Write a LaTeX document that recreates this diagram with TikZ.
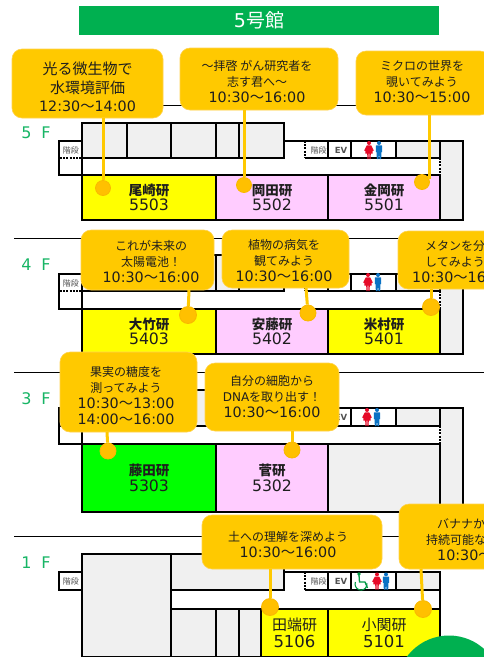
\documentclass[tikz,border=0pt]{standalone}
\usepackage{fontspec}
\setmainfont{DejaVu Sans}
\newfontfamily\jp{Noto Sans CJK JP}
\definecolor{hdr}{HTML}{00B050}
\definecolor{flr}{HTML}{17B565}
\definecolor{grayroom}{HTML}{F0F0F0}
\definecolor{pinkroom}{HTML}{FFCCFF}
\definecolor{yellowroom}{HTML}{FFFF00}
\definecolor{greenroom}{HTML}{00FF00}
\definecolor{bub}{HTML}{FFC900}
\definecolor{bubedge}{HTML}{FFD24D}
\definecolor{dotc}{HTML}{FFC000}
\definecolor{dotedge}{HTML}{F9B800}
\definecolor{wc}{HTML}{E60A28}
\definecolor{mc}{HTML}{0A72C4}
\definecolor{chair}{HTML}{009A44}
\definecolor{ink}{HTML}{1E1E1E}
\definecolor{sign}{HTML}{505050}
\tikzset{
  wall/.style={draw=black,line width=1.7pt},
  dashwall/.style={draw=black,line width=1.7pt,dash pattern=on 2pt off 1.2pt},
  room/.style={wall,fill=grayroom},
  rule/.style={draw=black,line width=0.7pt},
  labbox/.style={wall,inner sep=0pt,align=center,text=ink,font=\fontsize{15.7}{15.5}\selectfont},
  bubble/.style={draw=bubedge,line width=0.6pt,fill=bub,rounded corners=10pt,inner sep=0pt},
  bubtext/.style={inner sep=0pt,align=center,text=ink,font=\jp\fontsize{12}{16}\selectfont},
  stem/.style={draw=bub,line width=3pt},
  pin/.style={circle,fill=dotc,draw=dotedge,line width=0.8pt,inner sep=0pt},
  signtext/.style={inner sep=0pt,text=sign,font=\jp\fontsize{8}{8}\selectfont},
  evtext/.style={inner sep=0pt,text=sign,font=\bfseries\fontsize{8.5}{9}\selectfont},
  flrtext/.style={inner sep=0pt,text=flr,font=\fontsize{16}{16}\selectfont},
}
% room with text: name, x0, y0, x1, y1, colour, label, number
\newcommand{\labroom}[8]{%
  \pgfmathsetmacro{\cxx}{(#2+#4)/2}\pgfmathsetmacro{\cyy}{(#3+#5)/2}%
  \pgfmathsetmacro{\wdd}{#4-#2}\pgfmathsetmacro{\htt}{#5-#3}%
  \node[labbox,fill=#6,minimum width=\wdd pt,minimum height=\htt pt] (#1) at (\cxx,\cyy)
    {{\jp\bfseries\fontsize{13.5}{15.5}\selectfont #7}\\#8};}
% floor: top, core, mid, lab, bottom
\newcommand{\upperfloor}[5]{%
  \path[room] (82,#1) rectangle (284,#3);
  \foreach \xx in {127,171,216,239} \draw[wall] (\xx,#1) -- (\xx,#3);
  \draw[wall] (59,#2) rectangle (82,#4);
  \draw[line width=1.7pt,white] (62,#3) -- (81,#3);
  \draw[dashwall] (60,#3) -- (82,#3);
  \draw[wall] (284,#2) -- (440,#2);
  \draw[wall] (305,#3) -- (440,#3);
  \draw[dashwall] (305,#2) -- (305,#3);
  \draw[wall] (328,#2) -- (328,#3);
  \draw[wall] (351,#2) -- (351,#3);
  \path[room] (396,#2) rectangle (440,#3);
  \path[room] (440,#2) rectangle (463,#5);
  \draw[line width=1.8pt,white] (440,{#3+1}) -- (440,{#4-1});
  \draw[dashwall] (440,#3) -- (440,#4);
}
\newcommand{\woman}[3]{\begin{scope}[shift={(#1,#2)},yscale=#3]
  \fill[wc] (0,2) circle[radius=2];
  \fill[wc] (-2.2,4.4) -- (2.2,4.4) -- (4.8,9.5) -- (3.6,10) -- (3.6,12.5) -- (1.8,12.5) -- (1.6,18) -- (0.4,18) -- (0.3,12.5)
    -- (-0.3,12.5) -- (-0.4,18) -- (-1.6,18) -- (-1.8,12.5) -- (-3.6,12.5) -- (-3.6,10) -- (-4.8,9.5) -- cycle;
\end{scope}}
\newcommand{\man}[3]{\begin{scope}[shift={(#1,#2)},yscale=#3]
  \fill[mc] (0,2) circle[radius=2];
  \fill[mc] (-2.8,4.4) -- (2.8,4.4) -- (3.2,5) -- (3.2,11) -- (2.4,11) -- (2.2,18) -- (0.3,18) -- (0.2,12) -- (-0.2,12) -- (-0.3,18) -- (-2.2,18) -- (-2.4,11) -- (-3.2,11) -- (-3.2,5) -- cycle;
\end{scope}}
\newcommand{\tm}[2]{{\rmfamily\fontsize{14.3}{16}\selectfont #1{\jp 〜}#2}}
\newcommand{\bubblebox}[5]{%
  \pgfmathsetmacro{\cxx}{(#2+#4)/2}\pgfmathsetmacro{\cyy}{(#3+#5)/2}%
  \pgfmathsetmacro{\wdd}{#4-#2}\pgfmathsetmacro{\htt}{#5-#3}%
  \node[bubble,minimum width=\wdd pt,minimum height=\htt pt] (#1) at (\cxx,\cyy) {};}
\begin{document}
\begin{tikzpicture}[x=1pt,y=-1pt]
\useasboundingbox (0,0) rectangle (484,657);
\fill[white] (0,0) rectangle (484,657);
% title
\node[fill=hdr,minimum width=360pt,minimum height=29pt,inner sep=0pt,text=white,font=\fontsize{19}{19}\selectfont] (title) at (259,20.5) {5{\jp 号館}};
% storey rules
\coordinate (r5a) at (14,105);\coordinate (r5b) at (484,105);
\coordinate (r4a) at (14,238);\coordinate (r4b) at (484,238);
\coordinate (r3a) at (14,372);\coordinate (r3b) at (484,372);
\coordinate (r1a) at (14,536);\coordinate (r1b) at (484,536);
\draw[rule] (r5a) -- (r5b);\draw[rule] (r4a) -- (r4b);\draw[rule] (r3a) -- (r3b);\draw[rule] (r1a) -- (r1b);
% floor labels
\node[flrtext] (f5) at (36,133) {5\hspace{10pt}F};
\node[flrtext] (f4) at (36,265) {4\hspace{10pt}F};
\node[flrtext] (f3) at (36,399) {3\hspace{10pt}F};
\node[flrtext] (f1) at (36,563) {1\hspace{10pt}F};
% 5F
\upperfloor{123}{141}{158}{175}{220}
\node[signtext] (st5) at (71,150) {階段};
\node[signtext] (cs5) at (318.5,150) {階段};
\node[evtext] (ev5) at (341,150) {EV};
\labroom{l5503}{82}{175}{216}{220}{yellowroom}{尾崎研}{5503}
\labroom{l5502}{216}{175}{328}{220}{pinkroom}{岡田研}{5502}
\labroom{l5501}{328}{175}{440}{220}{pinkroom}{金岡研}{5501}
\woman{369}{141}{1}\man{379}{141}{1}
% 4F
\upperfloor{255}{274}{291}{309}{354}
\node[signtext] (st4) at (71,283) {階段};
\labroom{l5403}{82}{309}{216}{354}{yellowroom}{大竹研}{5403}
\labroom{l5402}{216}{309}{328}{354}{pinkroom}{安藤研}{5402}
\labroom{l5401}{328}{309}{440}{354}{yellowroom}{米村研}{5401}
\woman{368}{273}{1}\man{378}{273}{1}
% 3F
\upperfloor{390}{408}{426}{444}{512}
\node[evtext] (ev3) at (341,417) {EV};
\labroom{l5303}{82}{444}{216}{512}{greenroom}{藤田研}{5303}
\labroom{l5302}{216}{444}{328}{512}{pinkroom}{菅研}{5302}
\path[room] (328,444) rectangle (440,512);
\woman{367}{408}{1}\man{377}{408}{1}
% 1F
\path[room] (82,554) rectangle (171,657);
\path[room] (171,554) rectangle (284,590);
\draw[wall] (59,572) rectangle (82,590);
\node[signtext] (st1) at (71,581.5) {階段};
\path[room] (171,609) rectangle (216,657);
\path[room] (216,609) rectangle (239,657);
\path[room] (239,609) rectangle (261,657);
\draw[wall] (284,572) -- (440,572);
\draw[wall] (305,590) -- (440,590);
\draw[dashwall] (305,572) -- (305,590);
\draw[wall] (328,572) -- (328,590);
\draw[wall] (351,572) -- (351,590);
\path[room] (396,572) rectangle (440,590);
\draw[wall] (440,572) -- (440,657);
\node[signtext] (cs1) at (318.5,581.5) {階段};
\node[evtext] (ev1) at (341,581.5) {EV};
\begin{scope}[font=\fontsize{16.5}{17}\selectfont]
\node[wall,fill=yellowroom,inner sep=0pt,align=center,text=ink,minimum width=67pt,minimum height=48pt] (l5106) at (294.5,633)
  {{\jp\fontsize{15}{17}\selectfont 田端研}\\5106};
\node[wall,fill=yellowroom,inner sep=0pt,align=center,text=ink,minimum width=112pt,minimum height=48pt] (l5101) at (384,633)
  {{\jp\fontsize{15}{17}\selectfont 小関研}\\5101};
\end{scope}
% wheelchair and toilets
\fill[chair] (359,574) circle[radius=1.8];
\draw[chair,line width=1.3pt] (359,575) -- (359.5,582) -- (365,582) -- (367.5,588);
\draw[chair,line width=1.1pt] (355.4,582) arc[start angle=200,end angle=-10,radius=6];
\woman{377}{572.5}{0.95}\man{386}{572.5}{0.95}
% big circle
\fill[hdr] (449,688) circle[radius=52.5];
% pins
\node[pin,minimum size=15pt] (p5a) at (103,188) {};
\node[pin,minimum size=15pt] (p5b) at (244,185) {};
\node[pin,minimum size=15pt] (p5c) at (422,182) {};
\node[pin,minimum size=17pt] (p4a) at (188,315) {};
\node[pin,minimum size=16pt] (p4b) at (308,313) {};
\node[pin,minimum size=17pt] (p4c) at (431,307) {};
\node[pin,minimum size=16pt] (p3a) at (108,451) {};
\node[pin,minimum size=16pt] (p3b) at (292,450) {};
\node[pin,minimum size=17pt] (p1a) at (270,607) {};
\node[pin,minimum size=17pt] (p1b) at (423,609) {};
% callouts
\bubblebox{b5a}{12}{49}{163}{118}
\bubblebox{b5b}{180}{48}{338}{110}
\bubblebox{b5c}{356}{51}{490}{115}
\bubblebox{b4a}{81}{230}{214}{290}
\bubblebox{b4b}{222}{230}{349}{288}
\bubblebox{b4c}{398}{231}{530}{289}
\bubblebox{b3a}{60}{352}{197}{432}
\bubblebox{b3b}{205}{363}{339}{431}
\bubblebox{b1a}{202}{515}{382}{569}
\bubblebox{b1b}{399}{504}{575}{569}
% connectors
\draw[stem] (p5a) -- (p5a |- b5a.south);
\draw[stem] (p5b) -- (p5b |- b5b.south);
\coordinate (s5c) at (429,115);\coordinate (e5c) at (429,178.5);
\draw[stem] (s5c) -- (e5c);
\coordinate (s4a) at (189,290);\draw[stem] (s4a) -- (p4a);
\coordinate (s4b) at (306,288);\draw[stem] (s4b) -- (p4b);
\draw[stem] (p4c) -- (p4c |- b4c.south);
\coordinate (s3a) at (107,432);\draw[stem] (s3a) -- (p3a);
\draw[stem] (p3b) -- (p3b |- b3b.south);
\draw[stem] (p1a) -- (p1a |- b1a.south);
\coordinate (s1b) at (421,569);\draw[stem] (s1b) -- (p1b);
% callout texts
\node[bubtext,font=\jp\fontsize{15}{19}\selectfont] (t5a) at (87.5,87) {光る微生物で\\水環境評価\\[-1pt]\tm{12:30}{14:00}};
\node[bubtext] (t5b) at (257,82) {〜拝啓 がん研究者を\\志す君へ〜\\\tm{10:30}{16:00}};
\node[bubtext] (t5c) at (422,82) {ミクロの世界を\\覗いてみよう\\\tm{10:30}{15:00}};
\node[bubtext] (t4a) at (151,261.5) {これが未来の\\太陽電池！\\\tm{10:30}{16:00}};
\node[bubtext] (t4b) at (284,261) {植物の病気を\\観てみよう\\\tm{10:30}{16:00}};
\node[bubtext,anchor=west,align=left] (t4c) at (412,262) {\hspace*{13pt}メタンを分\\\hspace*{13pt}してみよう\\\tm{10:30}{16}};
\node[bubtext] (t3a) at (126,396) {果実の糖度を\\測ってみよう\\\tm{10:30}{13:00}\\\tm{14:00}{16:00}};
\node[bubtext] (t3b) at (272,397) {自分の細胞から\\{\rmfamily DNA}を取り出す！\\\tm{10:30}{16:00}};
\node[bubtext] (t1a) at (288,545) {土への理解を深めよう\\\tm{10:30}{16:00}};
\node[bubtext,anchor=west,align=left] (t1b) at (426,540) {\hspace*{11pt}バナナか\\持続可能な\\\hspace*{11pt}\tm{10:30}{}};
\end{tikzpicture}
\end{document}
